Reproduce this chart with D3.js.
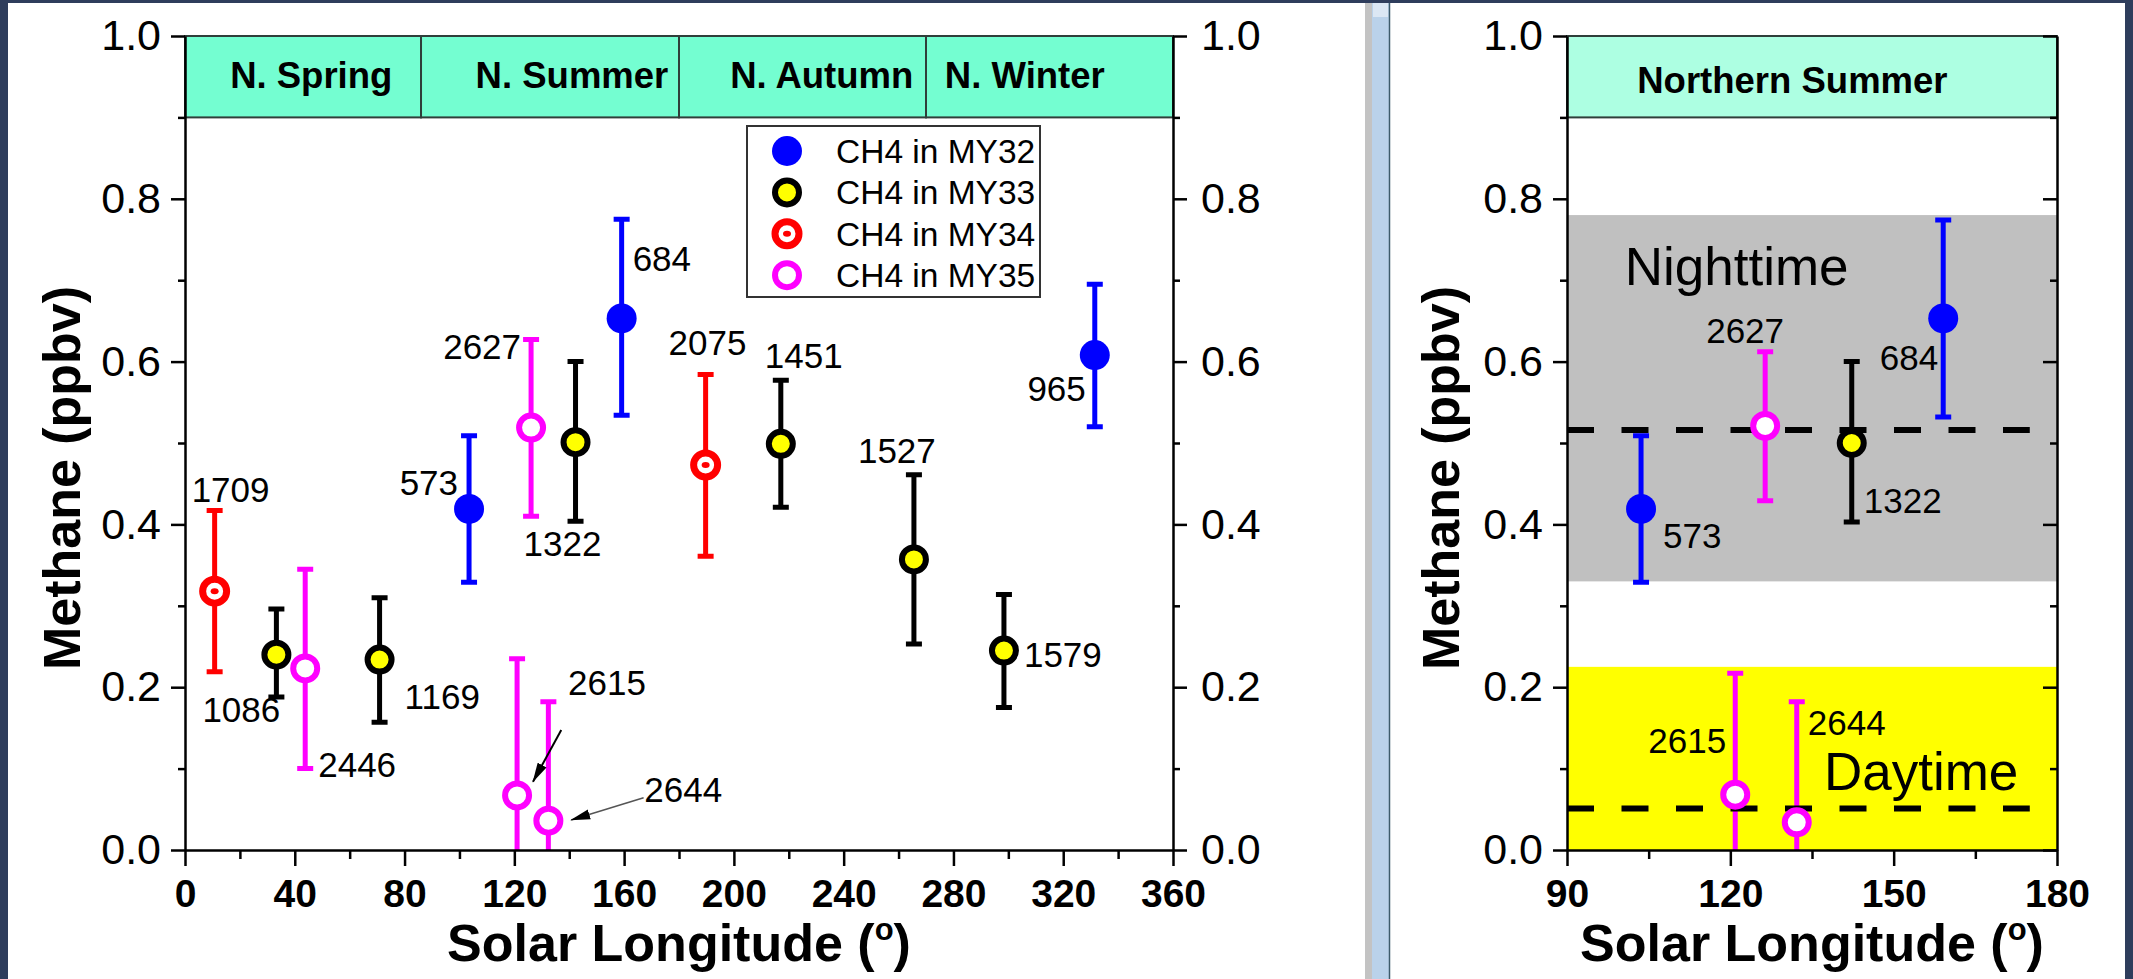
<!DOCTYPE html>
<html lang="en">
<head>
    <meta charset="UTF-8">
    <title>Methane vs Solar Longitude</title>
    <script src="https://d3js.org/d3.v7.min.js"></script>
    <style>
        body {
            margin: 0;
            background: #fff;
        }
        svg {
            display: block;
            font-family: 'Liberation Sans', Arial, sans-serif;
        }
        .axis path, .axis line {
            stroke: #000;
            stroke-width: 2.5;
        }
    </style>
</head>
<body>
    <script>
        // ---- data ----
        const years = ["MY32", "MY33", "MY34", "MY35"];

        // all seasons (left panel)
        const sols   = [573, 684, 965, 1086, 1169, 1322, 1451, 1527, 1579, 1709, 2075, 2446, 2627, 2615, 2644];
        const solYr  = ["MY32", "MY32", "MY32", "MY33", "MY33", "MY33", "MY33", "MY33", "MY33", "MY34", "MY34", "MY35", "MY35", "MY35", "MY35"];
        const solLs  = [103.5, 159.1, 331.5, 33.3, 70.9, 142.3, 217.1, 265.6, 298.4, 10.8, 189.7, 43.8, 126.1, 121.0, 132.4];
        const ch4    = [0.419, 0.653, 0.608, 0.240, 0.234, 0.501, 0.499, 0.357, 0.245, 0.318, 0.473, 0.223, 0.519, 0.067, 0.036];
        const errLo  = [0.329, 0.534, 0.520, 0.188, 0.157, 0.404, 0.421, 0.253, 0.175, 0.219, 0.361, 0.100, 0.410, 0.0, 0.0];
        const errHi  = [0.509, 0.775, 0.695, 0.296, 0.310, 0.600, 0.577, 0.461, 0.314, 0.417, 0.584, 0.345, 0.627, 0.235, 0.182];

        // northern summer zoom (right panel)
        const sSols  = [573, 2627, 1322, 684, 2615, 2644];
        const sYr    = ["MY32", "MY35", "MY33", "MY32", "MY35", "MY35"];
        const sLs    = [103.6, 126.4, 142.3, 159.1, 120.9, 132.2];
        const sCh4   = [0.419, 0.521, 0.500, 0.653, 0.068, 0.034];
        const sLo    = [0.329, 0.429, 0.403, 0.532, 0.0, 0.0];
        const sHi    = [0.509, 0.612, 0.600, 0.774, 0.217, 0.182];

        const seasonNames = ["N. Spring", "N. Summer", "N. Autumn", "N. Winter"];
        const seasonEdges = [0, 86, 180, 270, 360];
        const seasonTextLs = [46, 141, 232, 306];

        const nightBand = [0.33, 0.78], dayBand = [0, 0.225];
        const nightMean = 0.516, dayMean = 0.051, meanSpan = [90, 175];

        const yTicks = [0, 0.2, 0.4, 0.6, 0.8, 1.0];
        const yMinor = [0.1, 0.3, 0.5, 0.7, 0.9];
        const xTicksL = [0, 40, 80, 120, 160, 200, 240, 280, 320, 360];
        const xMinorL = [20, 60, 100, 140, 180, 220, 260, 300, 340];
        const xTicksR = [90, 120, 150, 180];
        const xMinorR = [105, 135, 165];

        // ---- styling / placement ----
        const color = { MY32: "#0000ff", MY33: "#000000", MY34: "#ff0000", MY35: "#ff00ff" };

        // label offsets from the point: [dx, dy, anchor]
        const labelL = {
            1709: [-23, -89, "start"], 1086: [-74, 67, "start"], 2446: [13, 109, "start"],
            1169: [25, 49, "start"], 573: [-11, -14, "end"], 1322: [-52, 114, "start"],
            2615: [51, -100, "start"], 2644: [96, -19, "start"], 2627: [-10, -69, "end"],
            684: [11, -47, "start"], 2075: [-37, -110, "start"], 1451: [-16, -76, "start"],
            965: [-9, 46, "end"], 1527: [-56, -96, "start"], 1579: [20, 16, "start"]
        };
        const labelR = {
            2627: [-59, -83, "start"], 684: [-5, 52, "end"], 573: [22, 39, "start"],
            1322: [12, 70, "start"], 2615: [-9, -42, "end"], 2644: [11, -87, "start"]
        };

        const width = 2133, height = 979;
        const svg = d3.select("body").append("svg")
            .attr("width", width)
            .attr("height", height);

        svg.append("rect").attr("width", width).attr("height", height).attr("fill", "#fff");

        // window frame
        const navy = "#2e3d5c";
        svg.append("rect").attr("x", 0).attr("y", 0).attr("width", width).attr("height", 3).attr("fill", navy);
        svg.append("rect").attr("x", 0).attr("y", 0).attr("width", 8).attr("height", height).attr("fill", navy);
        svg.append("rect").attr("x", width - 8).attr("y", 0).attr("width", 8).attr("height", height).attr("fill", navy);
        svg.append("rect").attr("x", 1365).attr("y", 3).attr("width", 7).attr("height", height).attr("fill", "#c3c3c3");
        svg.append("rect").attr("x", 1372).attr("y", 3).attr("width", 17).attr("height", height).attr("fill", "#bad2ea");
        svg.append("rect").attr("x", 1373).attr("y", 3).attr("width", 15).attr("height", 14).attr("fill", "#dbe7f4");
        svg.append("line").attr("x1", 1389.5).attr("x2", 1389.5).attr("y1", 3).attr("y2", height)
            .attr("stroke", "#3d5b6b").attr("stroke-width", 1.5);

        // arrowhead
        svg.append("defs").append("marker")
            .attr("id", "arrow")
            .attr("markerUnits", "userSpaceOnUse")
            .attr("viewBox", "0 -6 20 12")
            .attr("refX", 19).attr("refY", 0)
            .attr("markerWidth", 20).attr("markerHeight", 12)
            .attr("orient", "auto")
            .append("path").attr("d", "M0,-5L20,0L0,5Z").attr("fill", "#000");

        // scales
        const y = d3.scaleLinear().domain([0, 1]).range([850, 36]);
        const xL = d3.scaleLinear().domain([0, 360]).range([185, 1173]);
        const xR = d3.scaleLinear().domain([90, 180]).range([1567, 2057]);

        function rows(s, yr, ls, v, lo, hi) {
            return s.map((d, i) => ({ sol: d, year: yr[i], ls: ls[i], v: v[i], lo: lo[i], hi: hi[i] }));
        }
        const dataL = rows(sols, solYr, solLs, ch4, errLo, errHi);
        const dataR = rows(sSols, sYr, sLs, sCh4, sLo, sHi);

        // minor ticks: lines only, no (empty) labels
        function minor(g) {
            g.select(".domain").remove();
            g.selectAll("text").remove();
        }

        // axes for one panel
        function drawAxes(x, xMajor, xMinor, opts) {
            const g = svg.append("g");
            const bottom = g.append("g").attr("class", "axis").attr("transform", `translate(0,${y(0)})`);
            bottom.append("g").call(d3.axisBottom(x).tickValues(xMinor).tickSize(9).tickSizeOuter(0)).call(minor);
            bottom.append("g").call(d3.axisBottom(x).tickValues(xMajor).tickSize(16).tickSizeOuter(0)
                .tickPadding(13).tickFormat(d3.format("d")));

            const left = g.append("g").attr("class", "axis").attr("transform", `translate(${x.range()[0]},0)`);
            left.append("g").call(d3.axisLeft(y).tickValues(yMinor).tickSize(7).tickSizeOuter(0)).call(minor);
            left.append("g").call(d3.axisLeft(y).tickValues(yTicks).tickSize(14).tickSizeOuter(0)
                .tickPadding(10).tickFormat(d3.format(".1f")));

            const right = g.append("g").attr("class", "axis").attr("transform", `translate(${x.range()[1]},0)`);
            const inward = opts.rightInward ? -1 : 1;
            right.append("g").call(d3.axisRight(y).tickValues(yMinor).tickSize(7 * inward).tickSizeOuter(0)).call(minor);
            const rMajor = right.append("g").call(d3.axisRight(y).tickValues(yTicks).tickSize(14 * inward).tickSizeOuter(0)
                .tickPadding(14).tickFormat(d3.format(".1f")));
            if (!opts.rightLabels) rMajor.selectAll("text").remove();

            g.selectAll(".axis text").attr("fill", "#000").attr("font-family", "'Liberation Sans', Arial, sans-serif");
            bottom.selectAll("text").attr("font-size", 39).attr("font-weight", "bold");
            left.selectAll("text").attr("font-size", 43);
            right.selectAll("text").attr("font-size", 43);

            const cx = (x.range()[0] + x.range()[1]) / 2;
            const xt = g.append("text")
                .attr("x", cx).attr("y", 961)
                .attr("text-anchor", "middle")
                .attr("font-size", 52).attr("font-weight", "bold")
                .text("Solar Longitude (");
            xt.append("tspan").attr("font-size", 31).attr("dy", -21).text("o");
            xt.append("tspan").attr("dy", 21).text(")");

            g.append("text")
                .attr("transform", `translate(${opts.titleX},478) rotate(-90)`)
                .attr("text-anchor", "middle")
                .attr("font-size", 52).attr("font-weight", "bold")
                .text("Methane (ppbv)");
        }

        function drawErrorBars(g, x, data) {
            g.selectAll(".eb").data(data).join("path")
                .attr("d", d => {
                    const X = x(d.ls), y1 = y(d.lo), y2 = y(d.hi);
                    let p = `M${X},${y1}V${y2}M${X - 8},${y2}H${X + 8}`;
                    if (d.lo > 0) p += `M${X - 8},${y1}H${X + 8}`;
                    return p;
                })
                .attr("stroke", d => color[d.year])
                .attr("stroke-width", 5)
                .attr("fill", "none");
        }

        function marker(g, year, cx, cy) {
            if (year === "MY32") {
                g.append("circle").attr("cx", cx).attr("cy", cy).attr("r", 15).attr("fill", color.MY32);
            } else if (year === "MY33") {
                g.append("circle").attr("cx", cx).attr("cy", cy).attr("r", 12).attr("fill", "#ffff00")
                    .attr("stroke", "#000").attr("stroke-width", 6);
            } else if (year === "MY34") {
                g.append("circle").attr("cx", cx).attr("cy", cy).attr("r", 12).attr("fill", "#fff")
                    .attr("stroke", color.MY34).attr("stroke-width", 7);
                g.append("ellipse").attr("cx", cx).attr("cy", cy).attr("rx", 4).attr("ry", 3).attr("fill", color.MY34);
            } else {
                g.append("circle").attr("cx", cx).attr("cy", cy).attr("r", 12).attr("fill", "#fff")
                    .attr("stroke", color.MY35).attr("stroke-width", 6);
            }
        }

        function drawPoints(g, x, data) {
            data.forEach(d => marker(g, d.year, x(d.ls), y(d.v)));
        }

        function drawLabels(g, x, data, labels) {
            g.selectAll(".lbl").data(data).join("text")
                .attr("x", d => x(d.ls) + labels[d.sol][0])
                .attr("y", d => y(d.v) + labels[d.sol][1])
                .attr("text-anchor", d => labels[d.sol][2])
                .attr("font-size", 35)
                .attr("fill", "#000")
                .text(d => d.sol);
        }

        // ---------- left panel ----------
        const gL = svg.append("g");
        drawAxes(xL, xTicksL, xMinorL, { rightLabels: true, rightInward: false, titleX: 80 });

        // season boxes
        seasonNames.forEach((s, i) => {
            gL.append("rect")
                .attr("x", xL(seasonEdges[i])).attr("y", y(1.0))
                .attr("width", xL(seasonEdges[i + 1]) - xL(seasonEdges[i]))
                .attr("height", y(0.9) - y(1.0))
                .attr("fill", "#74fed1").attr("stroke", "#2f3f3a").attr("stroke-width", 2);
            gL.append("text")
                .attr("x", xL(seasonTextLs[i])).attr("y", 88)
                .attr("text-anchor", "middle")
                .attr("font-size", 36.5).attr("font-weight", "bold")
                .text(s);
        });

        drawErrorBars(gL, xL, dataL);

        // arrows to the two low MY35 points
        const arrows = [
            { from: [137.1, 0.1475], to: [126.8, 0.0839], stroke: "#000", w: 2 },
            { from: [167.1, 0.0643], to: [140.7, 0.0369], stroke: "#555", w: 1.5 }
        ];
        arrows.forEach(a => {
            gL.append("line")
                .attr("x1", xL(a.from[0])).attr("y1", y(a.from[1]))
                .attr("x2", xL(a.to[0])).attr("y2", y(a.to[1]))
                .attr("stroke", a.stroke).attr("stroke-width", a.w)
                .attr("marker-end", "url(#arrow)");
        });

        drawPoints(gL, xL, dataL);
        drawLabels(gL, xL, dataL, labelL);

        // legend
        const lg = svg.append("g");
        lg.append("rect").attr("x", 747).attr("y", 126).attr("width", 293).attr("height", 171)
            .attr("fill", "#fff").attr("stroke", "#333").attr("stroke-width", 2);
        years.forEach((yr, i) => {
            const ry = 151 + i * 41.4;
            marker(lg, yr, 787, ry);
            lg.append("text").attr("x", 836).attr("y", ry + 12)
                .attr("font-size", 33.5).text("CH4 in " + yr);
        });

        // ---------- right panel ----------
        const gR = svg.append("g");
        gR.append("rect")
            .attr("x", xR(90)).attr("y", y(nightBand[1]))
            .attr("width", xR(180) - xR(90)).attr("height", y(nightBand[0]) - y(nightBand[1]))
            .attr("fill", "#c0c0c0");
        gR.append("rect")
            .attr("x", xR(90)).attr("y", y(dayBand[1]))
            .attr("width", xR(180) - xR(90)).attr("height", y(dayBand[0]) - y(dayBand[1]))
            .attr("fill", "#ffff00");
        gR.append("rect")
            .attr("x", xR(90)).attr("y", y(1.0))
            .attr("width", xR(180) - xR(90)).attr("height", y(0.9) - y(1.0))
            .attr("fill", "#adffe2").attr("stroke", "#2f3f3a").attr("stroke-width", 2);
        gR.append("text")
            .attr("x", xR(131.4)).attr("y", 93)
            .attr("text-anchor", "middle")
            .attr("font-size", 36.5).attr("font-weight", "bold")
            .text("Northern Summer");

        gR.append("text").attr("x", xR(100.6)).attr("y", y(0.694))
            .attr("font-size", 53).text("Nighttime");
        gR.append("text").attr("x", xR(137.2)).attr("y", y(0.0737))
            .attr("font-size", 53).text("Daytime");

        drawErrorBars(gR, xR, dataR);

        [nightMean, dayMean].forEach(m => {
            gR.append("line")
                .attr("x1", xR(meanSpan[0])).attr("x2", xR(meanSpan[1]))
                .attr("y1", y(m)).attr("y2", y(m))
                .attr("stroke", "#000").attr("stroke-width", 6)
                .attr("stroke-dasharray", "27,27.5");
        });

        drawPoints(gR, xR, dataR);
        drawLabels(gR, xR, dataR, labelR);

        drawAxes(xR, xTicksR, xMinorR, { rightLabels: false, rightInward: true, titleX: 1459 });
    </script>
</body>
</html>
